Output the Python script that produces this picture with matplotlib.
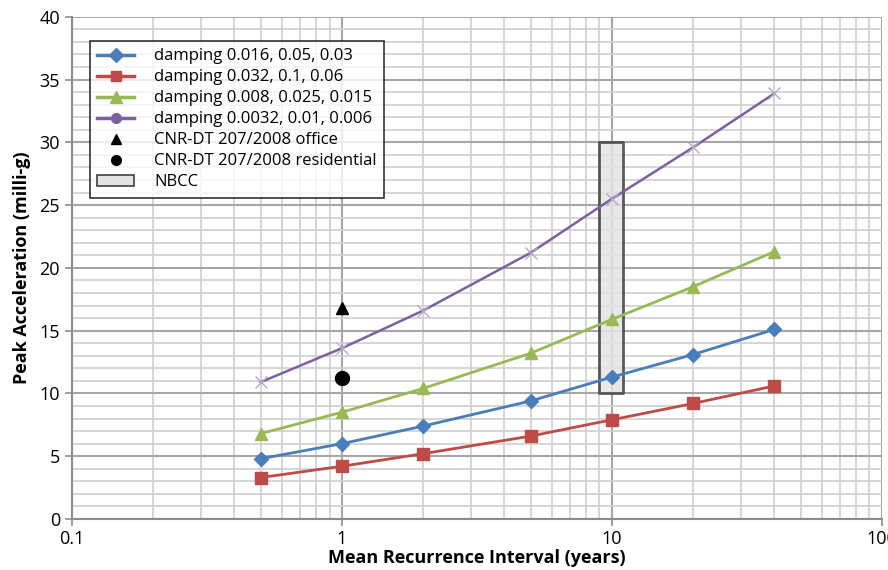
import matplotlib.pyplot as plt
from matplotlib.lines import Line2D
from matplotlib.patches import Patch
from matplotlib.ticker import LogLocator, MultipleLocator, FixedFormatter, FixedLocator

# Mean recurrence interval (years)
mri = [0.5, 1, 2, 5, 10, 20, 40]

# Peak acceleration (milli-g) for each damping set
acc_016 = [4.8, 6.0, 7.4, 9.4, 11.3, 13.1, 15.1]
acc_032 = [3.3, 4.2, 5.2, 6.6, 7.9, 9.2, 10.6]
acc_008 = [6.8, 8.5, 10.4, 13.2, 15.9, 18.5, 21.3]
acc_0032 = [10.9, 13.6, 16.6, 21.2, 25.5, 29.6, 33.9]

# CNR-DT 207/2008 limits at 1 year
cnr_x = 1
cnr_office = 16.8
cnr_residential = 11.2

# NBCC range
nbcc_x = [9, 11]
nbcc_y = [10, 30]

series_labels = ["damping 0.016, 0.05, 0.03", "damping 0.032, 0.1, 0.06",
                 "damping 0.008, 0.025, 0.015", "damping 0.0032, 0.01, 0.006",
                 "CNR-DT 207/2008 office", "CNR-DT 207/2008 residential", "NBCC"]

blue = "#4a7ebb"
red = "#be4b48"
green = "#98b954"
purple = "#7d60a0"

plt.rcParams['font.family'] = ['Open Sans', 'DejaVu Sans']

fig = plt.figure(figsize=(8.88, 5.7), dpi=100)
ax = fig.add_axes([0.081, 0.0895, 0.912, 0.881])

ax.plot(mri, acc_016, color=blue, lw=2, marker="D", ms=7, zorder=4)
ax.plot(mri, acc_032, color=red, lw=2, marker="s", ms=9, zorder=4)
ax.plot(mri, acc_008, color=green, lw=2, marker="^", ms=9, zorder=4)
ax.plot(mri, acc_0032, color=purple, lw=1.8, marker="x", ms=8, mec="#b5a8c8", mew=1, zorder=4)
ax.plot([cnr_x], [cnr_office], color="black", marker="^", ms=9, ls="none", zorder=5)
ax.plot([cnr_x], [cnr_residential], color="black", marker="o", ms=10, ls="none", zorder=5)
ax.fill_between(nbcc_x, nbcc_y[0], nbcc_y[1], facecolor="#e4e4e4", edgecolor="#404040",
                lw=2, alpha=0.85, zorder=3)

ax.set_xscale("log")
ax.set_xlim(0.1, 100)
ax.set_ylim(0, 40)
ax.xaxis.set_major_locator(FixedLocator([0.1, 1, 10, 100]))
ax.xaxis.set_major_formatter(FixedFormatter(["0.1", "1", "10", "100"]))
ax.xaxis.set_minor_locator(LogLocator(base=10, subs=range(2, 10)))
ax.xaxis.set_minor_formatter(FixedFormatter([]))
ax.yaxis.set_major_locator(MultipleLocator(5))
ax.yaxis.set_minor_locator(MultipleLocator(1))

ax.grid(which="major", color="#a6a6a6", lw=1.5, zorder=0)
ax.grid(which="minor", color="#cfcfcf", lw=1.2, zorder=0)
ax.set_axisbelow(True)

for side in ["top", "right"]:
    ax.spines[side].set_visible(False)
for side in ["left", "bottom"]:
    ax.spines[side].set_color("#8c8c8c")
    ax.spines[side].set_linewidth(1.5)

ax.tick_params(which="major", labelsize=13, length=5, color="#8c8c8c", width=1.2)
ax.tick_params(which="minor", length=0)
ax.tick_params(axis="x", pad=3)

ax.set_xlabel("Mean Recurrence Interval (years)", fontsize=13, fontweight="bold", labelpad=1)
ax.set_ylabel("Peak Acceleration (milli-g)", fontsize=13, fontweight="bold", labelpad=6)

handles = [
    Line2D([], [], color=blue, lw=2.5, marker="D", ms=7),
    Line2D([], [], color=red, lw=2.5, marker="s", ms=7),
    Line2D([], [], color=green, lw=2.5, marker="^", ms=8),
    Line2D([], [], color=purple, lw=2.5, marker="o", ms=7),
    Line2D([], [], color="black", marker="^", ms=7, ls="none"),
    Line2D([], [], color="black", marker="o", ms=7, ls="none"),
    Patch(facecolor="#e4e4e4", edgecolor="#404040", lw=1.2),
]
leg = ax.legend(handles, series_labels, loc="upper left", bbox_to_anchor=(0.022, 0.952),
                fontsize=12, frameon=True, fancybox=False, edgecolor="black",
                handlelength=2.2, labelspacing=0.3, borderpad=0.45, handletextpad=1.2,
                borderaxespad=0)
leg.get_frame().set_linewidth(1.2)

fig.savefig("out.png", dpi=100)
